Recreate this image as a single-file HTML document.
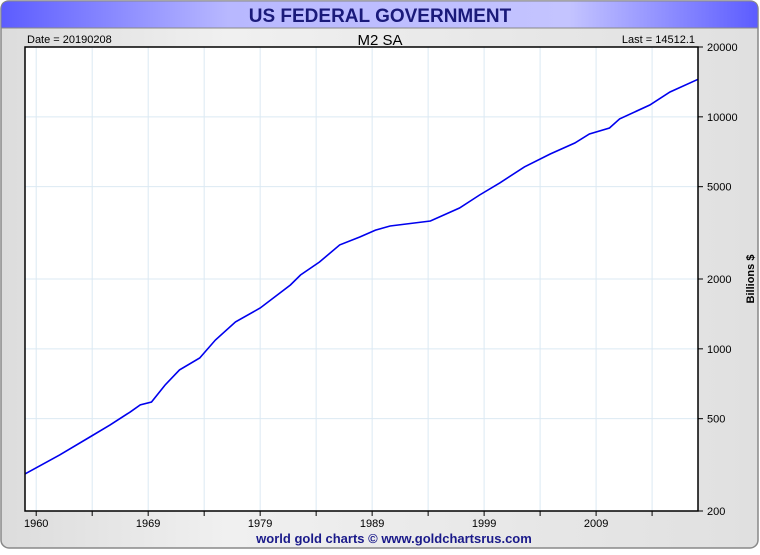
<!DOCTYPE html>
<html><head><meta charset="utf-8"><style>
body{margin:0;width:760px;height:550px;overflow:hidden;background:#fff;font-family:"Liberation Sans",sans-serif}
</style></head><body>
<svg width="760" height="550" xmlns="http://www.w3.org/2000/svg">
<defs>
<linearGradient id="hdr" x1="0" x2="1" y1="0" y2="0"><stop offset="0" stop-color="#5c5cff"/><stop offset="0.3" stop-color="#b8b8ff"/><stop offset="0.75" stop-color="#c4c4ff"/><stop offset="1" stop-color="#5c5cff"/></linearGradient>
<linearGradient id="bg" x1="0" x2="1" y1="0" y2="0"><stop offset="0" stop-color="#dcdcdc"/><stop offset="0.3" stop-color="#f0f0f0"/><stop offset="1" stop-color="#e0e0e0"/></linearGradient>
</defs>
<rect x="1" y="1" width="757" height="547" rx="8" fill="url(#bg)" stroke="#888" stroke-width="1.5"/>
<path d="M1,28 L1,9 Q1,1 9,1 L750,1 Q758,1 758,9 L758,28 Z" fill="url(#hdr)" stroke="#888"/>
<text x="380" y="22" text-anchor="middle" font-size="19" font-weight="bold" fill="#1a1a7a">US FEDERAL GOVERNMENT</text>
<text x="27" y="43" font-size="11" fill="#000">Date = 20190208</text>
<text x="380" y="45" text-anchor="middle" font-size="15" fill="#000">M2 SA</text>
<text x="695" y="43" text-anchor="end" font-size="11" fill="#000">Last = 14512.1</text>
<rect x="25" y="47" width="673" height="464" fill="#fff"/>
<g id="grid"></g>
<path id="line" fill="none" stroke="#0000ee" stroke-width="1.6"/>
<rect x="25" y="47" width="673" height="464" fill="none" stroke="#000" stroke-width="1.5"/>
<g id="axes"></g>
<text x="754" y="279" transform="rotate(-90 754 279)" text-anchor="middle" font-size="11" font-weight="bold" fill="#000">Billions $</text>
<text x="394" y="543" text-anchor="middle" font-size="13" font-weight="bold" fill="#1a1a8a">world gold charts © www.goldchartsrus.com</text>
</svg>
<script>
const years=[1958.0,1961.1,1963.8,1965.6,1967.4,1968.3,1969.3,1970.5,1971.8,1973.6,1975.0,1976.8,1979.0,1981.7,1982.6,1984.3,1986.1,1987.9,1989.3,1990.6,1994.2,1996.8,1998.6,2000.4,2002.6,2004.9,2007.1,2008.4,2010.2,2011.1,2013.8,2015.6,2018.1];
const m2=[289,349,417,470,535,573,590,698,811,913,1092,1306,1500,1885,2081,2368,2805,3035,3251,3383,3557,4045,4602,5190,6083,6915,7710,8433,8955,9795,11250,12800,14512];
const xTickYears=[1959,1969,1979,1989,1999,2009];
const xTickLabels=["1960","1969","1979","1989","1999","2009"];
const xMinorYears=[1959,1964,1969,1974,1979,1984,1989,1994,1999,2004,2009,2014];
const yTicks=[20000,10000,5000,2000,1000,500,200];
const X0=25,X1=698,Y0=47,Y1=511,YR0=1958,YR1=2018.1;
function x(yr){return X0+(yr-YR0)/(YR1-YR0)*(X1-X0);}
function y(v){return Y0+(Math.log10(20000)-Math.log10(v))/2*(Y1-Y0);}
const NS="http://www.w3.org/2000/svg";
const grid=document.getElementById('grid'),axes=document.getElementById('axes');
function mk(tag,at,parent){const e=document.createElementNS(NS,tag);for(const k in at)e.setAttribute(k,at[k]);parent.appendChild(e);return e;}
xMinorYears.forEach(yr=>{
 const g=mk('line',{x1:x(yr),x2:x(yr),y1:Y0,y2:Y1,stroke:'#dbe9f3','stroke-width':1},grid);
 
 
 const t=mk('line',{x1:x(yr),x2:x(yr),y1:Y1,y2:Y1+5,stroke:'#000'},axes);
 
 
});
xTickYears.forEach((yr,i)=>{
 const t=mk('text',{x:x(yr),y:Y1+16,'text-anchor':'middle','font-size':11,fill:'#000'},axes);
 t.textContent=xTickLabels[i];
 
 
});
yTicks.forEach(v=>{
 const g=mk('line',{x1:X0,x2:X1,y1:y(v),y2:y(v),stroke:'#dbe9f3'},grid);
 
 
 const t=mk('line',{x1:X1,x2:X1+5,y1:y(v),y2:y(v),stroke:'#000'},axes);
 
 
 const l=mk('text',{x:X1+9,y:y(v)+4,'font-size':11,fill:'#000'},axes);
 l.textContent=v;
 
 
});
document.getElementById('line').setAttribute('d',years.map((yr,i)=>(i?'L':'M')+x(yr).toFixed(1)+','+y(m2[i]).toFixed(1)).join(' '));
</script>
</body></html>
